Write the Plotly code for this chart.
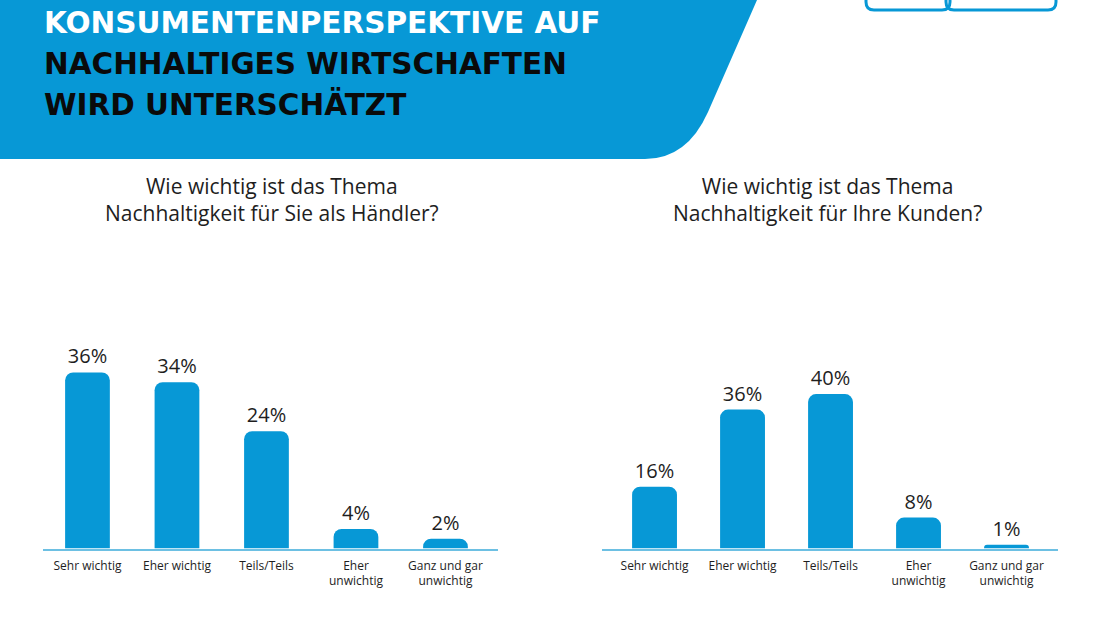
import plotly.graph_objects as go

# ---- data ----
categories = ["Sehr wichtig", "Eher wichtig", "Teils/Teils", "Eher<br>unwichtig", "Ganz und gar<br>unwichtig"]
haendler_values = [36, 34, 24, 4, 2]
kunden_values = [16, 36, 40, 8, 1]
title_lines = ["KONSUMENTENPERSPEKTIVE AUF", "NACHHALTIGES WIRTSCHAFTEN", "WIRD UNTERSCHÄTZT"]
subtitle_left = "Wie wichtig ist das Thema<br>Nachhaltigkeit für Sie als Händler?"
subtitle_right = "Wie wichtig ist das Thema<br>Nachhaltigkeit für Ihre Kunden?"

W, H = 1100, 618
BLUE = "#0798D6"
AXIS = "#6DC0E3"
TXT = "#1E1E1E"
FONT = "Open Sans"


def X(px):
    return px / W


def Y(py):
    return 1 - py / H


fig = go.Figure()

fig.add_trace(go.Bar(
    x=list(range(len(categories))), y=haendler_values,
    text=[f"{v}%" for v in haendler_values], textposition="outside",
    textfont=dict(size=20, color=TXT, family=FONT), cliponaxis=False,
    marker=dict(color=BLUE, line=dict(width=0)), width=0.5,
    xaxis="x", yaxis="y", showlegend=False, hoverinfo="skip"))

fig.add_trace(go.Bar(
    x=list(range(len(categories))), y=kunden_values,
    text=[f"{v}%" for v in kunden_values], textposition="outside",
    textfont=dict(size=20, color=TXT, family=FONT), cliponaxis=False,
    marker=dict(color=BLUE, line=dict(width=0)), width=0.51,
    xaxis="x2", yaxis="y2", showlegend=False, hoverinfo="skip"))

base = 548.5
top = 340
xax_common = dict(
    tickmode="array", tickvals=list(range(len(categories))), ticktext=categories,
    showline=True, linecolor=AXIS, linewidth=1.5, showgrid=False, zeroline=False,
    ticks="", ticklabelstandoff=5,
    tickfont=dict(size=12, color=TXT, family=FONT), fixedrange=True,
)

fig.update_layout(
    width=W, height=H,
    margin=dict(l=0, r=0, t=0, b=0),
    paper_bgcolor="white", plot_bgcolor="rgba(0,0,0,0)",
    barcornerradius=8,
    font=dict(family=FONT, color=TXT),
    xaxis=dict(domain=[X(43), X(498)], range=[-0.497, 4.587], anchor="y", **xax_common),
    yaxis=dict(domain=[Y(base), Y(top)], range=[0, (base - top) / 4.89], visible=False, fixedrange=True),
    xaxis2=dict(domain=[X(602), X(1058)], range=[-0.597, 4.585], anchor="y2", **xax_common),
    yaxis2=dict(domain=[Y(base), Y(top)], range=[0, (base - top) / 3.86], visible=False, fixedrange=True),
)

# header band
band = (f"M {X(0)},{Y(0)} L {X(757)},{Y(0)} L {X(708)},{Y(112)} "
        f"Q {X(687)},{Y(159)} {X(645)},{Y(159)} L {X(0)},{Y(159)} Z")
fig.add_shape(type="path", path=band, xref="paper", yref="paper",
              fillcolor=BLUE, line=dict(width=0), layer="below")


# logo outline in top right corner (partially visible)
def rrect(x0, y0, x1, y1, r):
    return (f"M {X(x0)},{Y(y0)} L {X(x0)},{Y(y1 - r)} Q {X(x0)},{Y(y1)} {X(x0 + r)},{Y(y1)} "
            f"L {X(x1 - r)},{Y(y1)} Q {X(x1)},{Y(y1)} {X(x1)},{Y(y1 - r)} L {X(x1)},{Y(y0)}")


fig.add_shape(type="path", path=rrect(866, -5, 950, 10, 8), xref="paper", yref="paper",
              line=dict(color=BLUE, width=3))
fig.add_shape(type="path", path=rrect(946, -5, 1056, 10, 8), xref="paper", yref="paper",
              line=dict(color=BLUE, width=3))

# title
title_colors = ["white", "#0A0A0A", "#0A0A0A"]
title_y = [23, 64, 104]
for line, col, yy in zip(title_lines, title_colors, title_y):
    fig.add_annotation(text=f"<b>{line}</b>", x=X(42), y=Y(yy), xref="paper", yref="paper",
                       xanchor="left", yanchor="middle", showarrow=False,
                       font=dict(size=29.5, color=col, family="DejaVu Sans"))

# subtitles
for txt, cx in [(subtitle_left, 272), (subtitle_right, 827)]:
    fig.add_annotation(text=txt, x=X(cx), y=Y(200), xref="paper", yref="paper",
                       xanchor="center", yanchor="middle", showarrow=False,
                       font=dict(size=21, color=TXT, family=FONT))

fig.write_html("out.html")
